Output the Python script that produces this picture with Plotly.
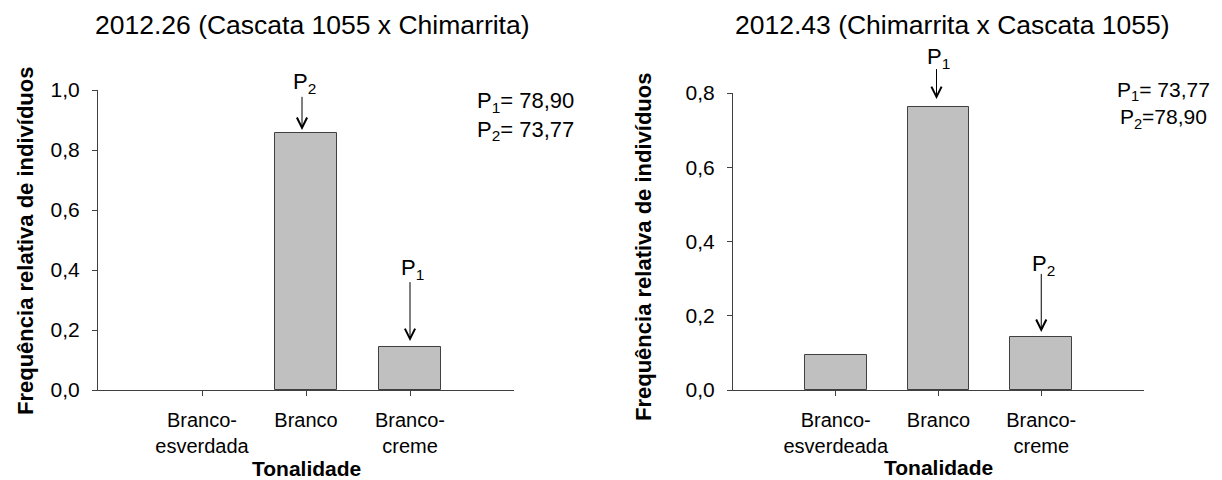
import plotly.graph_objects as go

# Relative frequency of individuals per flesh tone, for the two reciprocal crosses
tones_left = ["Branco-<br>esverdada", "Branco", "Branco-<br>creme"]
tones_right = ["Branco-<br>esverdeada", "Branco", "Branco-<br>creme"]
freq_left = [0.0, 0.857, 0.143]
freq_right = [0.095, 0.762, 0.143]
yticks_left = [0.0, 0.2, 0.4, 0.6, 0.8, 1.0]
yticks_right = [0.0, 0.2, 0.4, 0.6, 0.8]
title_left = "2012.26 (Cascata 1055 x Chimarrita)"
title_right = "2012.43 (Chimarrita x Cascata 1055)"
parents_left = "P<sub>1</sub>= 78,90<br>P<sub>2</sub>= 73,77"
parents_right = "P<sub>1</sub>= 73,77<br>P<sub>2</sub>=78,90"
# which parent sits over which bar: (bar index, label)
marks_left = [(1, "P<sub>2</sub>"), (2, "P<sub>1</sub>")]
marks_right = [(1, "P<sub>1</sub>"), (2, "P<sub>2</sub>")]

W, H = 1222, 480
FONT = "Liberation Sans, Arial, sans-serif"
AXIS_COLOR = "#404040"


def px(x):
    return x / W


def py(y):
    return 1 - y / H


xpos = list(range(len(tones_left)))


def bar_trace(values, xa, ya):
    # empty classes get no outline so nothing is drawn over the axis
    return go.Bar(
        x=xpos, y=values, width=0.6, xaxis=xa, yaxis=ya,
        marker=dict(color="#c0c0c0",
                    line=dict(color=AXIS_COLOR,
                              width=[1 if v > 0 else 0 for v in values])),
        showlegend=False, hoverinfo="skip",
    )


fig = go.Figure()
fig.add_trace(bar_trace(freq_left, "x", "y"))
fig.add_trace(bar_trace(freq_right, "x2", "y2"))

common_x = dict(
    range=[-1, 3], showline=True, linecolor=AXIS_COLOR, linewidth=1,
    ticks="outside", ticklen=5, tickcolor=AXIS_COLOR, tickvals=xpos,
    showgrid=False, zeroline=False, fixedrange=True,
    tickfont=dict(family=FONT, size=20, color="black"),
    ticklabelstandoff=7,
)
common_y = dict(
    showline=True, linecolor=AXIS_COLOR, linewidth=1,
    ticks="outside", ticklen=5, tickcolor=AXIS_COLOR, tickformat=".1f",
    showgrid=False, zeroline=False, fixedrange=True,
    tickfont=dict(family=FONT, size=21, color="black"),
    ticklabelstandoff=8,
)

fig.update_layout(
    width=W, height=H, margin=dict(l=0, r=0, t=0, b=0),
    template="none", paper_bgcolor="white", plot_bgcolor="white",
    separators=",.", bargap=0,
    font=dict(family=FONT, color="black"),
    xaxis=dict(common_x, domain=[px(98), px(514)], ticktext=tones_left, anchor="y"),
    yaxis=dict(common_y, domain=[py(390), py(90)], range=[0, 1.0],
               tickvals=yticks_left, anchor="x"),
    xaxis2=dict(common_x, domain=[px(733), px(1144)], ticktext=tones_right, anchor="y2"),
    yaxis2=dict(common_y, domain=[py(390), py(93)], range=[0, 0.8],
                tickvals=yticks_right, anchor="x2"),
)

annotations = []


def text_note(x, y, text, size, bold=False, angle=0, xanchor="center"):
    if bold:
        text = "<b>" + text + "</b>"
    annotations.append(dict(
        x=px(x), y=py(y), xref="paper", yref="paper", text=text,
        showarrow=False, textangle=angle, xanchor=xanchor, yanchor="middle",
        font=dict(family=FONT, size=size, color="black"),
    ))


# panel titles, axis titles and parent values
text_note(312, 25, title_left, 26.5)
text_note(952, 25, title_right, 26.5)
text_note(306, 468, "Tonalidade", 21, bold=True)
text_note(938, 467, "Tonalidade", 21, bold=True)
text_note(25, 241, "Frequência relativa de indivíduos", 22, bold=True, angle=-90)
text_note(644, 247, "Frequência relativa de indivíduos", 22, bold=True, angle=-90)
text_note(475, 116, parents_left, 22, xanchor="left")
text_note(1115, 105, parents_right, 21, xanchor="left")


def parent_arrow(xref, yref, idx, values, label, dx, gap, length, label_dy):
    # thin arrow with an open head pointing down onto the bar (pixel offsets)
    annotations.append(dict(
        x=idx, y=values[idx], xref=xref, yref=yref, text=" ",
        showarrow=True, ax=0, ay=-(gap + length), standoff=gap, xshift=dx,
        arrowhead=5, arrowsize=2, arrowwidth=1, arrowcolor="black",
        font=dict(size=1),
    ))
    annotations.append(dict(
        x=idx, y=values[idx], xref=xref, yref=yref, text=label,
        showarrow=False, xanchor="center", yanchor="middle",
        xshift=dx + 2, yshift=label_dy,
        font=dict(family=FONT, size=22, color="black"),
    ))


parent_arrow("x", "y", marks_left[0][0], freq_left, marks_left[0][1], -4, 3, 35, 50)
parent_arrow("x", "y", marks_left[1][0], freq_left, marks_left[1][1], 0, 6, 61, 78)
parent_arrow("x2", "y2", marks_right[0][0], freq_right, marks_right[0][1], -2, 8, 32, 49)
parent_arrow("x2", "y2", marks_right[1][0], freq_right, marks_right[1][1], 0, 5, 60, 72)

fig.update_layout(annotations=annotations)

fig.write_html("out.html")
